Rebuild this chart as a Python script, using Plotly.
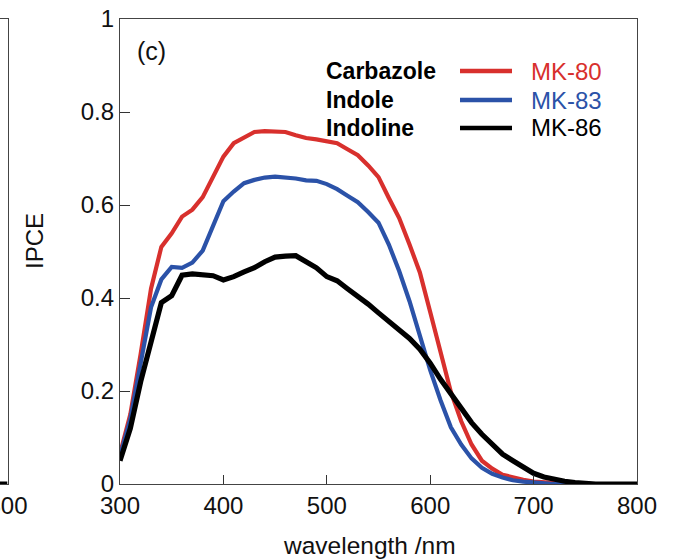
import plotly.graph_objects as go

# IPCE spectra, sampled every 10 nm from 300 to 800 nm
wavelength = list(range(300, 801, 10))

mk80 = [0.065, 0.15, 0.28, 0.42, 0.51, 0.539, 0.575, 0.59, 0.617, 0.66,
        0.704, 0.733, 0.744, 0.757, 0.759, 0.759, 0.757, 0.75, 0.744, 0.741,
        0.738, 0.733, 0.72, 0.707, 0.685, 0.66, 0.615, 0.572, 0.515, 0.455,
        0.37, 0.28, 0.198, 0.135, 0.085, 0.05, 0.033, 0.02, 0.014, 0.009,
        0.005, 0.003, 0.002, 0.001, 0, 0, 0, 0, 0, 0, 0]

mk83 = [0.06, 0.14, 0.26, 0.38, 0.44, 0.467, 0.465, 0.476, 0.502, 0.556,
        0.608, 0.629, 0.647, 0.654, 0.659, 0.661, 0.66, 0.657, 0.653, 0.652,
        0.645, 0.634, 0.62, 0.606, 0.585, 0.562, 0.515, 0.458, 0.393, 0.32,
        0.245, 0.18, 0.122, 0.085, 0.055, 0.035, 0.022, 0.014, 0.008, 0.005,
        0.003, 0.001, 0, 0, 0, 0, 0, 0, 0, 0, 0]

mk86 = [0.05, 0.12, 0.22, 0.30, 0.39, 0.405, 0.449, 0.452, 0.451, 0.448,
        0.439, 0.446, 0.456, 0.465, 0.478, 0.488, 0.49, 0.491, 0.478, 0.465,
        0.446, 0.437, 0.42, 0.405, 0.387, 0.368, 0.35, 0.332, 0.313, 0.29,
        0.26, 0.225, 0.193, 0.163, 0.132, 0.107, 0.085, 0.064, 0.05, 0.038,
        0.023, 0.015, 0.01, 0.006, 0.003, 0.001, 0, 0, 0, 0, 0]

# tail of the neighbouring panel (b), only its last few nm are visible
tail_wavelength = [780, 790, 800]
tail_mk86 = [0, 0, 0]

x_ticks = [300, 400, 500, 600, 700, 800]
y_ticks = [0, 0.2, 0.4, 0.6, 0.8, 1]
y_ticktext = ["0", "0.2", "0.4", "0.6", "0.8", "1"]

series_names = ["MK-80", "MK-83", "MK-86"]
donor_names = ["Carbazole", "Indole", "Indoline"]
colors = ["#d8302d", "#2b52a8", "#000000"]
widths = [4.2, 4.2, 5.2]

W, H = 675, 560
FONT = "Liberation Sans, Arial, Helvetica, sans-serif"


def fx(px):
    return px / W


def fy(py):
    return 1 - py / H


fig = go.Figure()

for name, ys, c, w in zip(series_names, [mk80, mk83, mk86], colors, widths):
    fig.add_trace(go.Scatter(x=wavelength, y=ys, mode="lines", name=name,
                             line=dict(color=c, width=w), cliponaxis=False,
                             xaxis="x", yaxis="y", showlegend=False))

fig.add_trace(go.Scatter(x=tail_wavelength, y=tail_mk86, mode="lines",
                         line=dict(color="#000000", width=5.2), cliponaxis=False,
                         xaxis="x2", yaxis="y2", showlegend=False))

axis_common = dict(showline=True, linecolor="#444444", linewidth=1.3,
                   ticks="inside", tickcolor="#333333", tickwidth=1,
                   showgrid=False, zeroline=False, automargin=False,
                   ticklabeloverflow="allow",
                   tickfont=dict(family=FONT, size=24, color="#111111"))

fig.update_layout(
    width=W, height=H,
    margin=dict(l=0, r=0, t=0, b=0, pad=0, autoexpand=False),
    paper_bgcolor="white", plot_bgcolor="white",
    xaxis=dict(domain=[fx(120), fx(637)], range=[300, 800], tickvals=x_ticks,
               ticklen=9, mirror=True, anchor="y", **axis_common),
    yaxis=dict(domain=[fy(484), fy(19)], range=[0, 1], tickvals=y_ticks,
               ticktext=y_ticktext, ticklen=10, mirror=True, anchor="x",
               **axis_common),
    xaxis2=dict(domain=[0, fx(7.5)], range=[790, 800], tickvals=[800],
                ticklen=0, mirror=True, anchor="y2", **axis_common),
    yaxis2=dict(domain=[fy(484), fy(19)], range=[0, 1], side="right",
                showticklabels=False, anchor="x2", automargin=False,
                showline=True, linecolor="#444444", linewidth=1.3,
                ticks="", showgrid=False, zeroline=False),
    showlegend=False,
)

annotations = [
    dict(text="(c)", x=fx(135), y=fy(51), xanchor="left", yanchor="middle",
         font=dict(family=FONT, size=25, color="#111111")),
    dict(text="wavelength /nm", x=fx(369), y=fy(545), xanchor="center",
         yanchor="middle", font=dict(family=FONT, size=24.5, color="#111111")),
    dict(text="IPCE", x=fx(34), y=fy(241), xanchor="center", yanchor="middle",
         textangle=-90, font=dict(family=FONT, size=24, color="#111111")),
]

legend_rows = [71, 100, 128]
shapes = []
for donor, name, c, row in zip(donor_names, series_names, colors, legend_rows):
    annotations.append(dict(text="<b>%s</b>" % donor, x=fx(324), y=fy(row),
                            xanchor="left", yanchor="middle",
                            font=dict(family=FONT, size=23, color="#000000")))
    annotations.append(dict(text=name, x=fx(529), y=fy(row), xanchor="left",
                            yanchor="middle",
                            font=dict(family=FONT, size=24, color=c)))
    shapes.append(dict(type="line", xref="paper", yref="paper",
                       x0=fx(460), x1=fx(512), y0=fy(row), y1=fy(row),
                       line=dict(color=c, width=4.5)))

for a in annotations:
    a.update(xref="paper", yref="paper", showarrow=False)

fig.update_layout(annotations=annotations, shapes=shapes)

fig.write_html("out.html")
